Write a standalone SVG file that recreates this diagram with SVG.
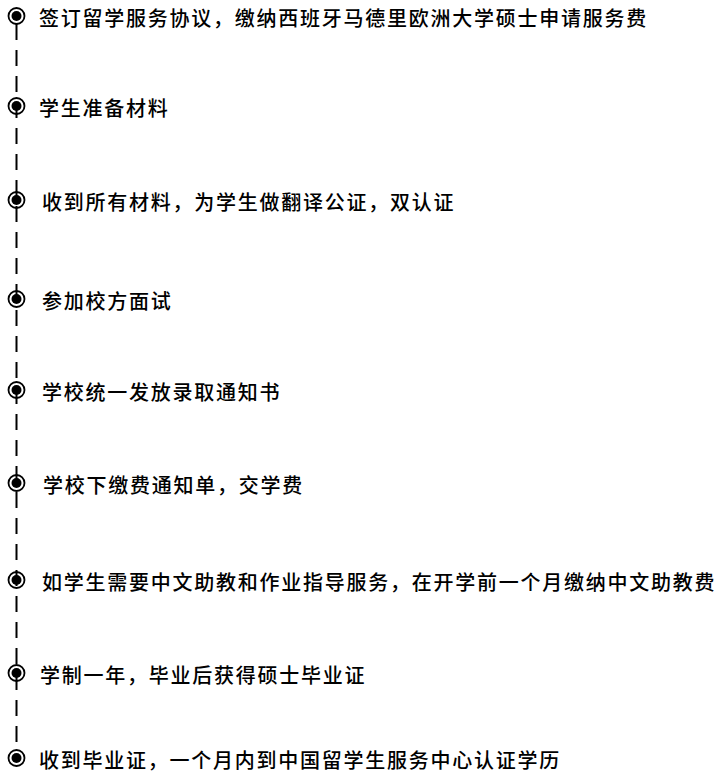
<svg xmlns="http://www.w3.org/2000/svg" width="720" height="777" viewBox="0 0 720 777">
<style>
.t{font-family:"Noto Sans CJK SC","Noto Sans",sans-serif;font-size:20px;font-weight:500;letter-spacing:1.75px;fill:#000;dominant-baseline:central}
.ring{fill:none;stroke:#000;stroke-width:1.8}
.dot{fill:#000}
.ln{stroke:#000;stroke-width:2;stroke-dasharray:16 10;fill:none}
</style>
<rect width="720" height="777" fill="#fff"/>
<g id="connectors">
<line class="ln" x1="16.5" y1="24" x2="16.5" y2="751"/>
</g>
<g id="n1"><circle class="ring" cx="16.5" cy="16" r="8"/><circle class="dot" cx="16.5" cy="16" r="5"/><text class="t" x="39" y="17">签订留学服务协议，缴纳西班牙马德里欧洲大学硕士申请服务费</text></g>
<g id="n2"><circle class="ring" cx="16.5" cy="106" r="8"/><circle class="dot" cx="16.5" cy="106" r="5"/><text class="t" x="39" y="107">学生准备材料</text></g>
<g id="n3"><circle class="ring" cx="16.5" cy="200" r="8"/><circle class="dot" cx="16.5" cy="200" r="5"/><text class="t" x="42" y="201">收到所有材料，为学生做翻译公证，双认证</text></g>
<g id="n4"><circle class="ring" cx="16.5" cy="299" r="8"/><circle class="dot" cx="16.5" cy="299" r="5"/><text class="t" x="42" y="300">参加校方面试</text></g>
<g id="n5"><circle class="ring" cx="16.5" cy="390" r="8"/><circle class="dot" cx="16.5" cy="390" r="5"/><text class="t" x="42" y="391">学校统一发放录取通知书</text></g>
<g id="n6"><circle class="ring" cx="16.5" cy="483" r="8"/><circle class="dot" cx="16.5" cy="483" r="5"/><text class="t" x="43" y="484">学校下缴费通知单，交学费</text></g>
<g id="n7"><circle class="ring" cx="16.5" cy="580" r="8"/><circle class="dot" cx="16.5" cy="580" r="5"/><text class="t" x="42" y="581">如学生需要中文助教和作业指导服务，在开学前一个月缴纳中文助教费</text></g>
<g id="n8"><circle class="ring" cx="16.5" cy="673" r="8"/><circle class="dot" cx="16.5" cy="673" r="5"/><text class="t" x="40" y="674">学制一年，毕业后获得硕士毕业证</text></g>
<g id="n9"><circle class="ring" cx="16.5" cy="758" r="8"/><circle class="dot" cx="16.5" cy="758" r="5"/><text class="t" x="39" y="759">收到毕业证，一个月内到中国留学生服务中心认证学历</text></g>
</svg>
